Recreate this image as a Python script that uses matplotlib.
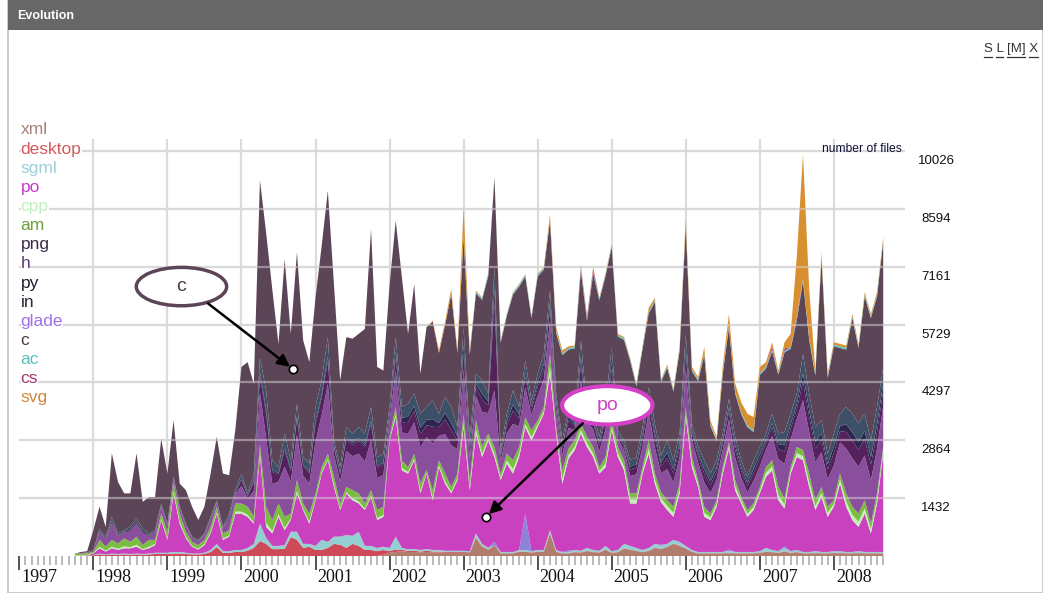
import matplotlib
matplotlib.use('Agg')
import matplotlib.pyplot as plt
from matplotlib.patches import Ellipse, Rectangle
from matplotlib.lines import Line2D
import numpy as np

# monthly samples, Oct 1997 .. Sep 2008 (month index counted from Jan 1997)
month_idx = np.arange(9, 141)
t = 1997 + month_idx / 12.0

xml = [0, 0, 0,
       0, 0, 0, 0, 0, 0, 0, 0, 0, 0, 0, 0,
       0, 0, 0, 0, 0, 0, 0, 0, 0, 0, 0, 0,
       0, 0, 0, 0, 0, 0, 0, 0, 0, 0, 0, 0,
       0, 0, 0, 0, 0, 0, 0, 0, 0, 0, 0, 30,
       80, 100, 120, 100, 100, 90, 100, 90, 90, 80, 80, 80,
       80, 70, 450, 230, 150, 270, 60, 60, 60, 100, 100, 80,
       100, 100, 560, 100, 60, 60, 90, 80, 120, 90, 80, 150,
       70, 90, 180, 150, 120, 90, 120, 200, 170, 220, 300, 250,
       180, 100, 60, 60, 60, 60, 60, 70, 60, 60, 60, 60,
       70, 100, 90, 70, 110, 70, 90, 60, 60, 70, 60, 60,
       70, 70, 60, 60, 70, 60, 60, 60, 60]
desktop = [0, 0, 10,
           20, 40, 30, 40, 30, 40, 30, 40, 30, 40, 50, 50,
           50, 60, 60, 50, 40, 40, 50, 100, 220, 80, 80, 100,
           100, 130, 200, 370, 300, 170, 170, 180, 470, 400, 200, 230,
           150, 150, 200, 300, 280, 200, 300, 250, 150, 150, 120, 120,
           40, 60, 30, 30, 30, 20, 30, 20, 20, 20, 20, 20,
           20, 20, 10, 10, 10, 0, 10, 10, 10, 10, 10, 10,
           10, 10, 10, 10, 10, 10, 10, 10, 10, 10, 10, 10,
           10, 10, 10, 10, 10, 10, 10, 10, 10, 10, 10, 10,
           10, 10, 10, 10, 10, 10, 10, 10, 10, 10, 10, 10,
           10, 10, 10, 10, 10, 10, 10, 10, 10, 10, 10, 10,
           10, 10, 10, 10, 10, 10, 10, 10, 10]
sgml = [0, 0, 0,
        10, 20, 10, 20, 20, 20, 20, 20, 20, 20, 30, 30,
        30, 40, 40, 30, 20, 20, 30, 50, 80, 40, 40, 50,
        50, 70, 100, 430, 150, 80, 80, 90, 130, 200, 100, 70,
        100, 250, 150, 180, 200, 320, 200, 350, 100, 100, 80, 80,
        80, 320, 50, 40, 40, 40, 40, 40, 40, 30, 30, 30,
        30, 30, 100, 60, 40, 0, 30, 30, 30, 40, 40, 30,
        40, 40, 70, 40, 30, 30, 50, 40, 70, 50, 40, 90,
        40, 50, 110, 90, 70, 50, 70, 90, 70, 70, 90, 90,
        60, 40, 30, 30, 30, 30, 30, 40, 30, 30, 30, 30,
        40, 90, 50, 40, 80, 40, 50, 30, 30, 40, 30, 30,
        40, 40, 30, 30, 40, 30, 30, 30, 30]
glade = [0, 0, 0,
         0, 0, 0, 0, 0, 0, 0, 0, 0, 0, 0, 0,
         0, 0, 0, 0, 0, 0, 0, 0, 0, 0, 0, 0,
         0, 0, 0, 0, 0, 0, 0, 0, 0, 0, 0, 0,
         0, 0, 0, 0, 0, 0, 0, 0, 0, 0, 0, 0,
         0, 0, 0, 0, 0, 0, 0, 0, 0, 0, 0, 0,
         0, 0, 0, 0, 0, 80, 0, 0, 0, 0, 900, 0,
         0, 0, 0, 0, 0, 40, 0, 0, 0, 0, 0, 0,
         0, 0, 0, 0, 0, 0, 0, 0, 30, 0, 0, 0,
         0, 0, 0, 0, 0, 0, 0, 40, 0, 0, 0, 0,
         0, 0, 0, 0, 40, 0, 0, 0, 0, 0, 0, 0,
         0, 0, 0, 0, 0, 0, 0, 0, 0]
po = [0, 10, 10,
      30, 130, 70, 130, 100, 130, 140, 170, 100, 130, 190, 810,
      320, 1450, 700, 360, 170, 100, 190, 410, 750, 280, 360, 900,
      900, 770, 500, 1700, 270, 310, 720, 370, 300, 950, 840, 500,
      1130, 1640, 2020, 1230, 660, 1030, 880, 700, 890, 1210, 690, 740,
      2660, 2960, 1920, 1870, 2200, 1400, 1870, 1230, 2050, 1660, 1420, 1750,
      3060, 1510, 2470, 2150, 2660, 2100, 1780, 2190, 1940, 2300, 2140, 2740,
      3040, 3370, 3870, 2880, 1690, 2270, 2470, 2900, 2500, 2300, 1910, 1950,
      2990, 2300, 1820, 1050, 1100, 1890, 2330, 1490, 1050, 840, 570, 1200,
      3190, 2050, 1610, 870, 790, 1120, 1940, 2500, 1530, 1200, 870, 1040,
      1430, 1760, 1970, 1260, 940, 1920, 2300, 2270, 1610, 1020, 1360, 870,
      1100, 1670, 1120, 790, 600, 950, 460, 1200, 2430]
cpp = [10, 10, 10,
       10, 40, 20, 40, 30, 50, 30, 50, 20, 40, 30, 30,
       40, 50, 50, 30, 20, 20, 30, 30, 30, 30, 30, 50,
       50, 50, 30, 50, 100, 60, 60, 60, 30, 60, 30, 50,
       30, 30, 30, 50, 30, 30, 50, 50, 30, 30, 50, 50,
       20, 60, 60, 40, 40, 60, 20, 60, 40, 60, 40, 40,
       100, 70, 100, 80, 50, 80, 50, 80, 110, 80, 80, 80,
       60, 60, 170, 60, 120, 90, 80, 90, 90, 90, 60, 90,
       90, 90, 100, 100, 100, 60, 130, 100, 100, 100, 100, 100,
       100, 100, 70, 100, 70, 70, 70, 70, 100, 70, 70, 70,
       70, 100, 100, 130, 100, 70, 100, 100, 130, 100, 100, 100,
       70, 100, 130, 130, 130, 130, 100, 100, 70]
am = [50, 40, 40,
      30, 170, 100, 170, 130, 200, 130, 200, 100, 170, 100, 130,
      160, 200, 200, 130, 100, 90, 100, 130, 140, 130, 130, 200,
      200, 200, 140, 200, 400, 270, 270, 270, 120, 270, 130, 200,
      140, 130, 130, 200, 130, 130, 200, 200, 130, 140, 200, 200,
      70, 190, 190, 120, 120, 190, 70, 190, 130, 190, 120, 120,
      230, 150, 230, 170, 120, 170, 110, 160, 220, 170, 170, 170,
      110, 110, 320, 100, 210, 160, 160, 160, 160, 160, 100, 160,
      160, 160, 150, 150, 150, 100, 200, 150, 150, 140, 150, 150,
      150, 150, 100, 150, 90, 90, 90, 90, 150, 90, 100, 90,
      90, 140, 150, 200, 140, 90, 150, 150, 200, 140, 150, 150,
      90, 150, 200, 200, 200, 200, 140, 150, 100]
h = [0, 10, 20,
     40, 200, 180, 400, 180, 140, 260, 310, 290, 110, 170, 180,
     140, 110, 120, 140, 90, 90, 110, 180, 110, 110, 290, 230,
     440, 200, 640, 1300, 1700, 890, 540, 1240, 790, 1130, 690, 740,
     1280, 1290, 1730, 540, 540, 890, 840, 980, 1040, 1240, 790, 790,
     400, 900, 690, 820, 780, 890, 810, 1150, 600, 980, 1030, 600,
     1110, 570, 600, 860, 510, 1400, 300, 510, 900, 510, 730, 380,
     600, 680, 820, 430, 380, 510, 260, 1070, 380, 430, 390, 690,
     940, 210, 250, 430, 470, 510, 690, 640, 470, 770, 600, 640,
     940, 430, 430, 600, 510, 510, 430, 560, 560, 470, 430, 560,
     510, 430, 600, 690, 860, 690, 690, 1240, 1030, 940, 860, 680,
     860, 770, 1110, 1200, 1160, 1110, 1070, 1110, 1020]
png = [0, 0, 0,
       0, 30, 20, 60, 20, 20, 40, 50, 40, 20, 20, 20,
       20, 20, 20, 20, 10, 10, 20, 20, 20, 20, 40, 30,
       150, 60, 210, 420, 600, 300, 180, 410, 260, 380, 230, 250,
       430, 430, 580, 180, 180, 300, 280, 330, 350, 410, 260, 260,
       130, 330, 250, 300, 280, 330, 300, 420, 220, 360, 380, 220,
       410, 210, 220, 310, 190, 2200, 110, 190, 330, 190, 270, 140,
       220, 250, 300, 160, 140, 190, 100, 390, 140, 160, 140, 250,
       340, 80, 90, 160, 170, 190, 250, 240, 170, 280, 220, 230,
       340, 160, 160, 220, 190, 190, 160, 200, 200, 170, 160, 200,
       190, 160, 220, 250, 310, 250, 250, 450, 380, 340, 310, 250,
       310, 280, 410, 440, 420, 410, 390, 410, 370]
py = [0, 0, 0,
      0, 0, 0, 10, 0, 0, 0, 0, 0, 0, 0, 0,
      0, 0, 0, 0, 0, 0, 0, 0, 0, 0, 0, 0,
      30, 10, 40, 80, 100, 50, 30, 70, 50, 60, 40, 40,
      70, 70, 100, 30, 30, 50, 50, 60, 60, 70, 40, 40,
      60, 150, 110, 130, 130, 150, 130, 190, 100, 160, 170, 100,
      180, 90, 100, 140, 90, 300, 50, 90, 150, 90, 120, 70,
      100, 120, 140, 70, 70, 90, 40, 180, 70, 70, 70, 120,
      160, 40, 50, 70, 80, 90, 120, 110, 80, 130, 100, 110,
      160, 70, 70, 100, 90, 90, 70, 100, 100, 90, 70, 100,
      90, 70, 100, 120, 150, 120, 120, 210, 170, 160, 150, 120,
      150, 130, 190, 200, 200, 190, 180, 190, 180]
in_ = [0, 0, 0,
       10, 50, 50, 100, 50, 40, 70, 90, 80, 30, 50, 50,
       40, 30, 30, 40, 30, 30, 30, 50, 30, 30, 80, 70,
       120, 60, 180, 350, 480, 240, 150, 340, 220, 320, 190, 210,
       360, 360, 480, 150, 150, 240, 230, 270, 280, 340, 220, 220,
       150, 350, 270, 320, 300, 350, 320, 460, 230, 390, 400, 230,
       440, 230, 230, 340, 200, 540, 120, 200, 350, 200, 280, 150,
       230, 260, 310, 170, 150, 190, 100, 410, 150, 160, 150, 260,
       370, 80, 100, 160, 180, 200, 260, 250, 180, 300, 230, 250,
       370, 170, 160, 230, 200, 200, 170, 210, 210, 180, 160, 210,
       200, 170, 230, 260, 330, 260, 260, 480, 400, 370, 330, 260,
       330, 300, 430, 460, 450, 430, 420, 430, 400]
c = [0, 30, 30,
     490, 540, 240, 1570, 1270, 910, 830, 1610, 660, 900, 820, 1600,
     1240, 1400, 570, 830, 740, 490, 660, 1070, 1570, 1320, 950, 1480,
     2640, 3250, 2220, 4400, 3900, 4230, 3050, 4320, 3130, 3750, 2890, 2510,
     2700, 3330, 3620, 3840, 2150, 2230, 2350, 2310, 2590, 4400, 2230, 2060,
     3010, 2880, 3210, 1730, 2710, 990, 1980, 1950, 1510, 1790, 2800, 1840,
     2230, 2040, 1990, 1990, 2920, 2230, 2660, 2420, 2370, 2980, 2080, 2040,
     2410, 2090, 1730, 1510, 2110, 1470, 1780, 1730, 2130, 3480, 3380, 3160,
     2480, 2320, 2490, 2460, 1750, 1940, 1830, 3010, 1830, 1800, 1700, 2040,
     2650, 1300, 1630, 2610, 1180, 480, 1480, 1770, 1080, 1140, 1230, 700,
     1780, 1610, 1550, 1460, 1970, 1610, 1820, 1810, 1340, 1280, 4020, 1880,
     2160, 1630, 1420, 2370, 1870, 2910, 3030, 2740, 3120]
ac = [0] * 63 + [40] * 69
cs = [0, 0, 0,
      0, 0, 0, 0, 0, 0, 0, 0, 0, 0, 0, 0,
      0, 0, 0, 0, 0, 0, 0, 0, 0, 0, 0, 0,
      0, 0, 0, 0, 0, 0, 0, 0, 0, 0, 0, 0,
      0, 0, 0, 0, 0, 0, 0, 0, 0, 0, 0, 0,
      0, 0, 0, 0, 0, 0, 0, 0, 0, 0, 0, 0,
      0, 0, 0, 0, 0, 0, 0, 0, 0, 0, 0, 0,
      0, 0, 0, 0, 0, 0, 0, 60, 60, 80, 0, 0,
      0, 0, 0, 0, 0, 0, 0, 0, 0, 0, 0, 0,
      0, 0, 0, 0, 0, 0, 0, 0, 0, 0, 0, 0,
      0, 0, 80, 0, 60, 0, 80, 0, 0, 0, 0, 0,
      0, 0, 0, 0, 0, 0, 0, 0, 0]
svg = [0, 0, 0,
       0, 0, 0, 0, 0, 0, 0, 0, 0, 0, 0, 0,
       0, 0, 0, 0, 0, 0, 0, 0, 0, 0, 0, 0,
       0, 0, 0, 0, 0, 0, 0, 0, 0, 0, 0, 0,
       0, 0, 0, 0, 0, 0, 0, 0, 0, 0, 0, 0,
       0, 0, 0, 0, 0, 0, 0, 30, 60, 80, 120, 60,
       700, 60, 30, 20, 20, 0, 20, 20, 20, 20, 20, 20,
       20, 20, 120, 100, 80, 40, 30, 30, 30, 30, 30, 30,
       30, 30, 30, 30, 30, 30, 100, 60, 30, 40, 30, 60,
       150, 60, 60, 150, 100, 60, 150, 290, 200, 250, 290, 330,
       160, 120, 100, 60, 150, 330, 1460, 3100, 1230, 80, 100, 60,
       60, 60, 60, 60, 60, 60, 60, 60, 60]

series = {'xml': xml, 'desktop': desktop, 'sgml': sgml, 'glade': glade,
          'po': po, 'cpp': cpp, 'am': am, 'h': h, 'png': png, 'py': py,
          'in': in_, 'c': c, 'ac': ac, 'cs': cs, 'svg': svg}

stack_order = ['xml', 'desktop', 'sgml', 'glade', 'po', 'cpp', 'am', 'h',
               'png', 'py', 'in', 'c', 'ac', 'cs', 'svg']
legend_order = ['xml', 'desktop', 'sgml', 'po', 'cpp', 'am', 'png', 'h',
                'py', 'in', 'glade', 'c', 'ac', 'cs', 'svg']

area_colors = {'xml': '#b07c6c', 'desktop': '#cf4a58', 'sgml': '#94cfd1',
               'glade': '#8b84d8', 'po': '#c941be', 'cpp': '#c2f0b8',
               'am': '#7bbd40', 'h': '#8a4f9c', 'png': '#54215c',
               'py': '#2d2450', 'in': '#3c5068', 'c': '#5d4558',
               'ac': '#55c2c2', 'cs': '#b83c7c', 'svg': '#d88f2f'}
label_colors = {'xml': '#a8807a', 'desktop': '#d45a5e', 'sgml': '#9ccfd8',
                'po': '#c43cc4', 'cpp': '#bdf0bd', 'am': '#6a9e3c',
                'png': '#3a2a48', 'h': '#5c3a78', 'py': '#1a1a2a',
                'in': '#2a2a40', 'glade': '#a070e8', 'c': '#4a3a4a',
                'ac': '#5cc0b8', 'cs': '#a03c70', 'svg': '#d0883c'}

tick_values = [1432, 2864, 4297, 5729, 7161, 8594, 10026]
years = list(range(1997, 2009))

W, H = 1043, 593
plt.rcParams['font.family'] = ['Liberation Sans', 'DejaVu Sans']
fig = plt.figure(figsize=(W / 100, H / 100), dpi=100)

# page frame and header bar
fig.patches.append(Rectangle((8 / W, 0), 1 - 8 / W, 1, transform=fig.transFigure,
                             facecolor='none', edgecolor='#cccccc', lw=1.5, zorder=0))
fig.patches.append(Rectangle((8 / W, 1 - 30 / H), 1 - 8 / W, 30 / H,
                             transform=fig.transFigure, facecolor='#676767',
                             edgecolor='none', zorder=1))
fig.text(17 / W, 1 - 16 / H, 'Evolution', color='white', fontsize=9,
         fontweight='bold', va='center', ha='left')

# S L [M] X links
fig.text(984 / W, 1 - 49 / H, 'S L [M] X', color='#333333', fontsize=9.5,
         va='center', ha='left')
for x0, x1 in [(984, 992), (996, 1003), (1007, 1025), (1029, 1038)]:
    fig.lines.append(Line2D([x0 / W, x1 / W], [1 - 57 / H, 1 - 57 / H],
                            transform=fig.transFigure, color='#333333', lw=0.9))

# plot area
ax = fig.add_axes([19.3 / W, 37 / H, (905 - 19.3) / W, 417 / H])
ax.patch.set_alpha(0)
ax.set_xlim(1997, 1997 + (905 - 19.3) / 74.05)
ax.set_ylim(0, 10026 * 417 / 405)
for s in ax.spines.values():
    s.set_visible(False)
ax.set_yticks([])

for yr in years[1:]:
    ax.axvline(yr, color='#dcdcdc', lw=1.6, zorder=0)
for v in tick_values:
    ax.axhline(v, color='#dcdcdc', lw=1.6, zorder=0)

ax.stackplot(t, *[series[n] for n in stack_order],
             colors=[area_colors[n] for n in stack_order],
             linewidth=0, zorder=2)

for v in tick_values:
    ax.axhline(v, color='#d8d8d8', lw=1.6, alpha=0.5, zorder=3)
    ax.annotate(str(v), xy=(1, v), xycoords=('axes fraction', 'data'),
                xytext=(31, -10), textcoords='offset pixels',
                ha='center', va='center', fontsize=9.5, color='#111111')
ax.annotate('number of files', xy=(1, tick_values[-1]),
            xycoords=('axes fraction', 'data'), xytext=(-3, 2),
            textcoords='offset pixels', ha='right', va='center',
            fontsize=8.7, color='#111133')

# x ticks: years (long) and months (short)
ax.set_xticks(years)
ax.set_xticks([1997 + k / 12 for k in range(141) if k % 12], minor=True)
ax.tick_params(axis='x', which='major', length=10, width=1.3, color='#444444',
               labelbottom=False)
ax.tick_params(axis='x', which='minor', length=6.5, width=1.3, color='#b4b4b4')
for yr in years:
    ax.annotate(str(yr), xy=(yr, 0), xycoords=('data', 'axes fraction'),
                xytext=(2, -21), textcoords='offset pixels', ha='left',
                va='center', fontsize=13, family='Liberation Serif', color='#111111')

# legend as coloured labels
for k, name in enumerate(legend_order):
    fig.text(20.7 / W, 1 - (130 + 19.14 * k) / H, name, color=label_colors[name],
             fontsize=12.5, ha='left', va='center', zorder=5,
             bbox=dict(facecolor='white', edgecolor='none', pad=0))

# callouts
callouts = [('c', (1999.19, 6670), (1999.55, 6250), (2000.70, 4620), '#5d4558', '#4a3a4a', 2.5),
            ('po', (2004.94, 3730), (2004.61, 3285), (2003.30, 963), '#d63fc8', '#cc44c4', 3)]
for label, center, start, end, edge, tcol, lw in callouts:
    ax.add_patch(Ellipse(center, 1.22, 950, facecolor='white', edgecolor=edge,
                         lw=lw, zorder=6))
    ax.text(center[0], center[1], label, ha='center', va='center', fontsize=14,
            color=tcol, zorder=7)
    ax.annotate('', xy=end, xytext=start,
                arrowprops=dict(arrowstyle='-|>', color='black', lw=1.8,
                                mutation_scale=18, shrinkA=0, shrinkB=3),
                zorder=6)
    ax.plot([end[0]], [end[1]], 'o', mfc='white', mec='black', ms=6, mew=1.2,
            zorder=7)

fig.savefig('out.png', dpi=100)
